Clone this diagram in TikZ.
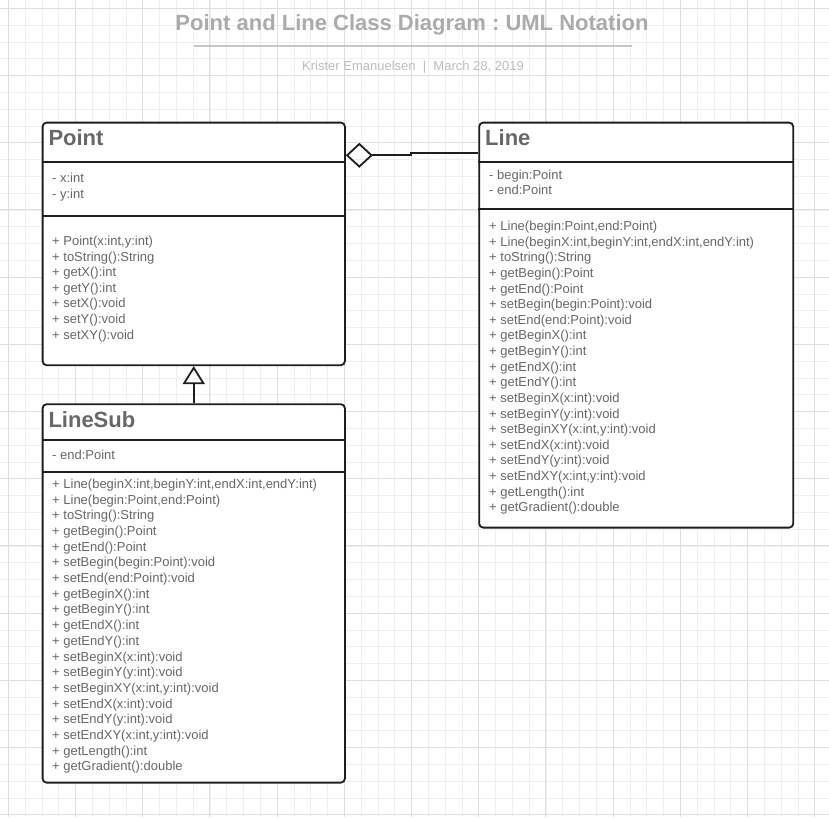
\documentclass[tikz,border=0pt]{standalone}
\usepackage{fontspec}
\setmainfont{Liberation Sans}
\usetikzlibrary{arrows.meta}
\definecolor{txt}{HTML}{686868}
\definecolor{titlegray}{HTML}{ABABAB}
\definecolor{subgray}{HTML}{BDBDBD}
\definecolor{rulegray}{HTML}{C6C6C6}
\definecolor{gridminor}{HTML}{EFEFEF}
\definecolor{gridmajor}{HTML}{DEDEDE}
\definecolor{border}{HTML}{1E1E1E}
\tikzset{
  classbox/.style={draw=border, line width=1.8pt, fill=white, rounded corners=4pt,
    rectangle, anchor=north west, inner sep=0pt},
  divider/.style={draw=border, line width=1.8pt},
  member/.style={anchor=base west, inner sep=0pt, text=txt, font=\fontsize{13}{15}\selectfont},
  classname/.style={anchor=base west, inner sep=0pt, text=txt, font=\fontsize{22}{26}\selectfont\bfseries},
  aggr/.style={draw=border, line width=1.8pt, -{Diamond[open, length=27pt, width=25pt]}},
  inh/.style={draw=border, line width=1.8pt, -{Triangle[open, length=18pt, width=22pt]}},
}
\frenchspacing
\begin{document}
\begin{tikzpicture}[x=1pt,y=-1pt]
\useasboundingbox (0,0) rectangle (829,817);
\fill[white] (0,0) rectangle (829,817);
% grid
\foreach \k in {0,...,49} {
  \pgfmathsetmacro\p{8.3+16.8*\k}
  \draw[gridminor, line width=0.8pt] (\p,0) -- (\p,817);
  \draw[gridminor, line width=0.8pt] (0,\p) -- (829,\p);
}
\foreach \k in {0,...,12} {
  \pgfmathsetmacro\p{8.3+67.2*\k}
  \draw[gridmajor, line width=0.9pt] (\p,0) -- (\p,817);
  \draw[gridmajor, line width=0.9pt] (0,\p) -- (829,\p);
}
% title
\node[anchor=base, inner sep=0pt, text=titlegray, font=\fontsize{22}{26}\selectfont\bfseries] (title) at (412,30.7) {Point and Line Class Diagram : UML Notation};
\draw[rulegray, line width=2pt] (194,45.5) -- (632,45.5);
\node[anchor=base, inner sep=0pt, text=subgray, font=\fontsize{13}{15}\selectfont] (subtitle) at (413,70) {Krister Emanuelsen\ \ |\ \ March 28, 2019};

% Point box
\node[classbox, minimum width=302.3pt, minimum height=242.6pt] (point) at (41.7,121.7) {};
\draw[divider] (point.west |- 0,161.7) -- (point.east |- 0,161.7);
\draw[divider] (point.west |- 0,216) -- (point.east |- 0,216);
\node[classname] (pointname) at (48.3,145.7) {Point};
\foreach \t [count=\i from 0] in {- x:int, - y:int}
  \node[member] (pa\i) at (52,182.7+15.6*\i) {\t};
\foreach \t [count=\i from 0] in {{+ Point(x:int,y:int)}, + toString():String, + getX():int, + getY():int, + setX():void, + setY():void, + setXY():void}
  \node[member] (pm\i) at (52,245.5+15.6*\i) {\t};

% Line box
\node[classbox, minimum width=314pt, minimum height=405pt] (line) at (478.3,121.7) {};
\draw[divider] (line.west |- 0,161.7) -- (line.east |- 0,161.7);
\draw[divider] (line.west |- 0,209) -- (line.east |- 0,209);
\node[classname] (linename) at (485,145.7) {Line};
\foreach \t [count=\i from 0] in {- begin:Point, - end:Point}
  \node[member] (la\i) at (489,179.3+15.6*\i) {\t};
\foreach \t [count=\i from 0] in {{+ Line(begin:Point,end:Point)}, {+ Line(beginX:int,beginY:int,endX:int,endY:int)}, + toString():String, + getBegin():Point, + getEnd():Point, + setBegin(begin:Point):void, + setEnd(end:Point):void, + getBeginX():int, + getBeginY():int, + getEndX():int, + getEndY():int, + setBeginX(x:int):void, + setBeginY(y:int):void, {+ setBeginXY(x:int,y:int):void}, + setEndX(x:int):void, + setEndY(y:int):void, {+ setEndXY(x:int,y:int):void}, + getLength():int, + getGradient():double}
  \node[member] (lm\i) at (489,230.6+15.62*\i) {\t};

% LineSub box
\node[classbox, minimum width=302.3pt, minimum height=378.4pt] (linesub) at (41.7,403.3) {};
\draw[divider] (linesub.west |- 0,440) -- (linesub.east |- 0,440);
\draw[divider] (linesub.west |- 0,471.7) -- (linesub.east |- 0,471.7);
\node[classname] (linesubname) at (48.3,427.3) {LineSub};
\node[member] (sa0) at (52,459.3) {- end:Point};
\foreach \t [count=\i from 0] in {{+ Line(beginX:int,beginY:int,endX:int,endY:int)}, {+ Line(begin:Point,end:Point)}, + toString():String, + getBegin():Point, + getEnd():Point, + setBegin(begin:Point):void, + setEnd(end:Point):void, + getBeginX():int, + getBeginY():int, + getEndX():int, + getEndY():int, + setBeginX(x:int):void, + setBeginY(y:int):void, {+ setBeginXY(x:int,y:int):void}, + setEndX(x:int):void, + setEndY(y:int):void, {+ setEndXY(x:int,y:int):void}, + getLength():int, + getGradient():double}
  \node[member] (sm\i) at (52,488.4+15.69*\i) {\t};

% connectors
\draw[aggr] (line.west |- 0,153.3) -- (411,153.3) -- (411,155.3) -- (point.east |- 0,155.3);
\draw[inh] (linesub.north) -- (point.south);
\end{tikzpicture}
\end{document}
